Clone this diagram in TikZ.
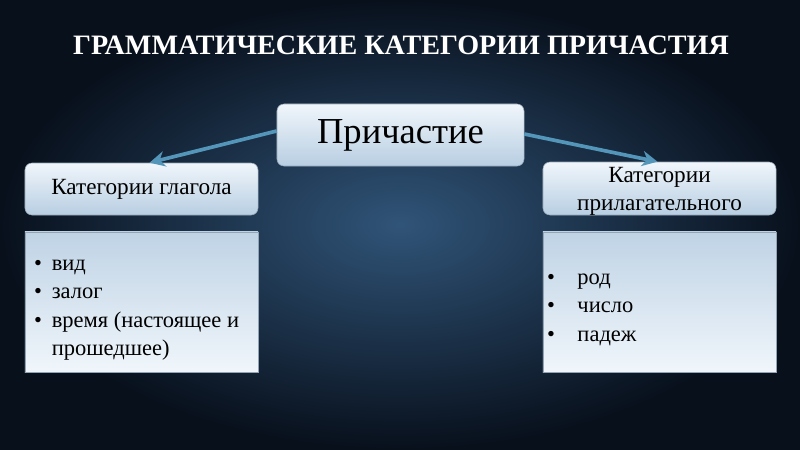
\documentclass[tikz,border=0pt]{standalone}
\usepackage{fontspec}
\setmainfont{Liberation Serif}
\usetikzlibrary{arrows.meta}
\definecolor{bginner}{RGB}{48,84,120}
\definecolor{bgouter}{RGB}{8,16,28}
\definecolor{boxtop}{RGB}{240,246,251}
\definecolor{boxbot}{RGB}{184,206,226}
\definecolor{arrowblue}{RGB}{84,150,186}

\begin{document}
\begin{tikzpicture}[x=0.025cm, y=-0.025cm, semithick,
    catbox/.style={rounded corners=5pt, top color=boxtop, bottom color=boxbot,
      draw=boxbot!80!black, thin, text=black, align=center},
    listbox/.style={top color=boxbot!90!white, bottom color=boxtop, draw=boxbot!80!black, thin},
    link/.style={-{Stealth[length=11pt,width=11pt]}, line width=2.6pt, draw=arrowblue}]
  % background
  \shade[inner color=bginner, outer color=bgouter] (0,0) rectangle (800,449);
  \useasboundingbox (0,0) rectangle (800,449);

  \node[text=white, font=\bfseries\fontsize{20}{24}\selectfont] (title) at (401,45)
    {ГРАММАТИЧЕСКИЕ КАТЕГОРИИ ПРИЧАСТИЯ};

  \node[catbox, minimum width=6.175cm, minimum height=1.55cm,
    font=\fontsize{26}{30}\selectfont] (prich) at (400.5,135) {Причастие};
  \node[catbox, minimum width=5.825cm, minimum height=1.3cm,
    font=\fontsize{16.5}{19}\selectfont] (verb) at (141.5,189) {Категории глагола};
  \node[catbox, minimum width=5.825cm, minimum height=1.325cm] (adj) at (659.5,188.5) {};
  \node[align=center, inner sep=0pt, font=\fontsize{16.5}{19.5}\selectfont] (adjtext)
    at ([shift={(0,3)}]adj.center) {Категории\\прилагательного};

  \node[listbox, minimum width=5.825cm, minimum height=3.5cm] (verblist) at (141.5,302) {};
  \node[listbox, minimum width=5.825cm, minimum height=3.5cm] (adjlist) at (659.5,302) {};

  \node[anchor=north west, inner sep=0pt, font=\fontsize{16}{20}\selectfont] (verbitems)
    at ([shift={(9,19)}]verblist.north west)
    {\begin{tabular}{@{}l@{\hspace{7pt}}l@{}}
      \textbullet & вид\\
      \textbullet & залог\\
      \textbullet & время (настоящее и\\
                  & прошедшее)
    \end{tabular}};
  \node[anchor=north west, inner sep=0pt, font=\fontsize{16}{20}\selectfont] (adjitems)
    at ([shift={(4,33)}]adjlist.north west)
    {\begin{tabular}{@{}l@{\hspace{16pt}}l@{}}
      \textbullet & род\\
      \textbullet & число\\
      \textbullet & падеж
    \end{tabular}};

  \draw[link] ([shift={(0,-4)}]prich.west) -- ([shift={(8,0)}]verb.north);
  \draw[link] ([shift={(0,-1)}]prich.east) -- ([shift={(-2,0)}]adj.north);
\end{tikzpicture}
\end{document}
